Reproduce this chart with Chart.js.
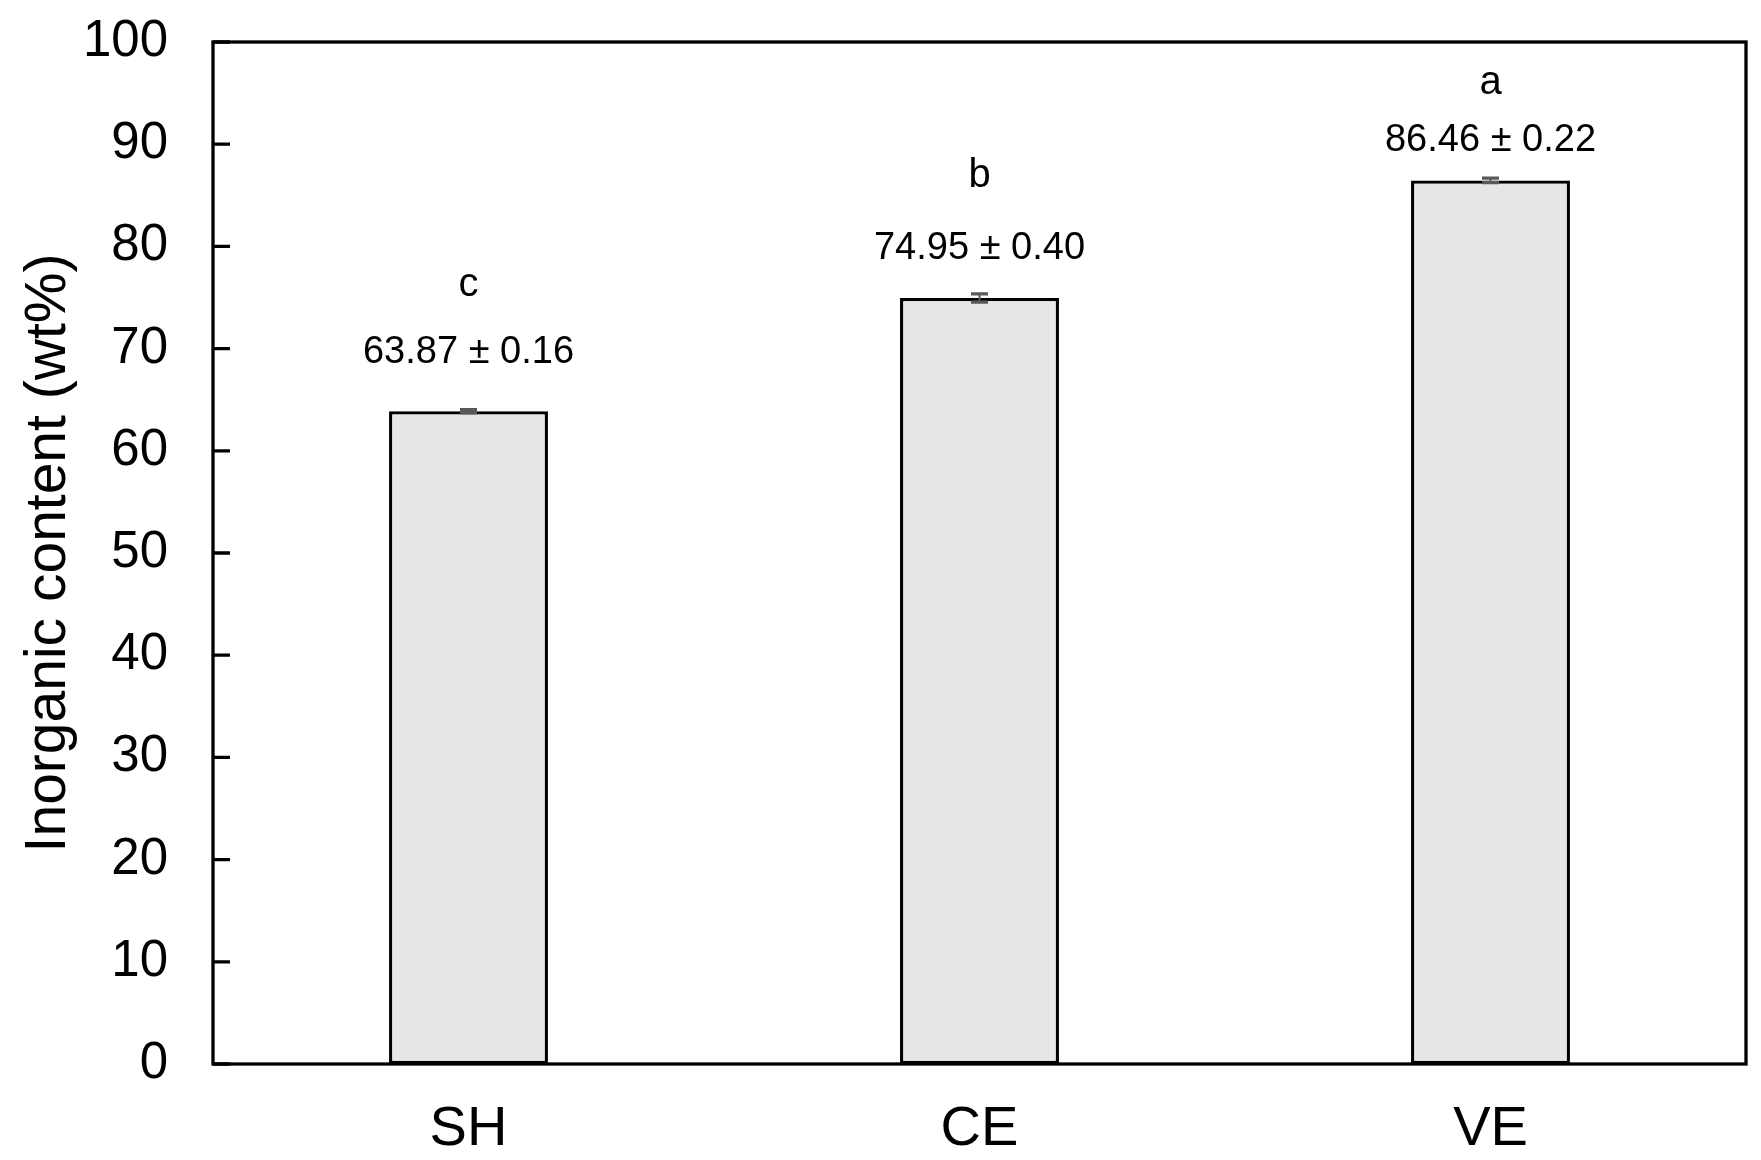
<!DOCTYPE html>
<html>
<head>
<meta charset="utf-8">
<script src="https://cdn.jsdelivr.net/npm/chart.js@4"></script>
<style>
  html, body { margin: 0; padding: 0; background: #fff; }
  #wrap { position: relative; width: 1761px; height: 1160px; }
</style>
</head>
<body>
<div id="wrap"><canvas id="myChart"></canvas></div>
<script>
const categories = ["SH", "CE", "VE"];
const values = [63.87, 74.95, 86.46];
const errors = [0.16, 0.40, 0.22];
const groupLetters = ["c", "b", "a"];
const yTicks = [0, 10, 20, 30, 40, 50, 60, 70, 80, 90, 100];

const FONT = "'Liberation Sans', Arial, sans-serif";
// where the two text rows sit, in axis units
const valueRowAt = [69.6, 79.8, 90.4];
const letterRowAt = [76.2, 86.9, 96.0];

// frame, inward ticks, error bars and labels
const extras = {
  id: "extras",
  afterDatasetsDraw(chart) {
    const c = chart.ctx;
    const area = chart.chartArea;
    const y = chart.scales.y;
    const x = chart.scales.x;

    c.save();
    c.strokeStyle = "#000";
    c.lineWidth = 3.3;
    c.strokeRect(area.left, area.top, area.right - area.left, area.bottom - area.top);

    c.beginPath();
    yTicks.forEach((t) => {
      const py = y.getPixelForValue(t);
      c.moveTo(area.left, py);
      c.lineTo(area.left + 17, py);
    });
    c.stroke();

    c.strokeStyle = "#595959";
    values.forEach((v, i) => {
      const px = x.getPixelForValue(i);
      const top = y.getPixelForValue(v + errors[i]);
      const bot = y.getPixelForValue(v - errors[i]);
      c.lineWidth = 2;
      c.beginPath();
      c.moveTo(px, top);
      c.lineTo(px, bot);
      c.stroke();
      c.lineWidth = 3.3;
      c.beginPath();
      c.moveTo(px - 8.5, top);
      c.lineTo(px + 8.5, top);
      c.moveTo(px - 8.5, bot);
      c.lineTo(px + 8.5, bot);
      c.stroke();
    });

    c.fillStyle = "#000";
    c.textAlign = "center";
    c.textBaseline = "middle";
    c.font = "38px " + FONT;
    values.forEach((v, i) => {
      const px = x.getPixelForValue(i);
      c.fillText(v.toFixed(2) + " \u00b1 " + errors[i].toFixed(2), px, y.getPixelForValue(valueRowAt[i]));
    });
    c.font = "40px " + FONT;
    groupLetters.forEach((l, i) => {
      const px = x.getPixelForValue(i);
      c.fillText(l, px, y.getPixelForValue(letterRowAt[i]));
    });
    c.restore();
  },
};

const ctx = document.getElementById("myChart");

new Chart(ctx, {
  type: "bar",
  data: {
    labels: categories,
    datasets: [
      {
        data: values,
        backgroundColor: "#e6e6e6",
        borderColor: "#000",
        borderWidth: 3.3,
        borderSkipped: false,
        barPercentage: 0.311,
        categoryPercentage: 1,
      },
    ],
  },
  options: {
    responsive: true,
    maintainAspectRatio: false,
    animation: false,
    layout: {
      padding: { top: 42, right: 15, left: 0, bottom: 0 },
    },
    plugins: {
      legend: { display: false },
      tooltip: { enabled: false },
    },
    scales: {
      x: {
        grid: { display: false, drawTicks: false },
        border: { display: false },
        ticks: {
          color: "#000",
          padding: 32,
          font: { family: FONT, size: 56 },
        },
        afterFit: (s) => {
          s.height = 96;
          s.paddingLeft = 0;
          s.paddingRight = 0;
        },
      },
      y: {
        min: 0,
        max: 100,
        afterBuildTicks: (axis) => {
          axis.ticks = yTicks.map((v) => ({ value: v }));
        },
        grid: { display: false, drawTicks: false },
        border: { display: false },
        ticks: {
          color: "#000",
          padding: 45,
          font: { family: FONT, size: 51 },
        },
        title: {
          display: true,
          text: "Inorganic content (wt%)",
          color: "#000",
          padding: { top: 15, bottom: 0 },
          font: { family: FONT, size: 57 },
        },
        afterFit: (s) => {
          s.width = 213;
          s.paddingTop = 0;
          s.paddingBottom = 0;
        },
      },
    },
  },
  plugins: [extras],
});
</script>
</body>
</html>
